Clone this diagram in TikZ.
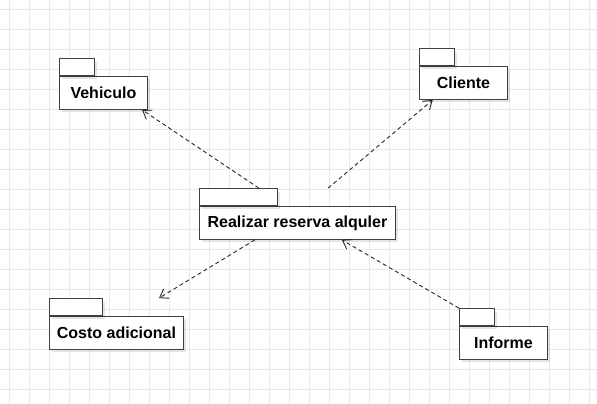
\documentclass[tikz,border=0pt]{standalone}
\usepackage{fontspec}
\setmainfont{Liberation Sans}
\usetikzlibrary{arrows.meta,fit,shadows}
\tikzstyle{gridline}=[draw=black!9, line width=0.8pt]
\tikzstyle{pkgbody}=[draw=black!75, fill=white, line width=0.9pt, minimum height=33pt, inner sep=0pt, anchor=north west, font=\bfseries\fontsize{16}{19}\selectfont, drop shadow={shadow xshift=3pt, shadow yshift=-3pt, fill=black, opacity=0.10}]
\tikzstyle{pkgtab}=[draw=black!75, fill=white, line width=0.9pt, minimum height=17pt, inner sep=0pt, anchor=south west, drop shadow={shadow xshift=3pt, shadow yshift=-3pt, fill=black, opacity=0.10}]
\tikzstyle{pkg}=[inner sep=0pt, outer sep=0pt]
\tikzstyle{dep}=[draw=black!85, line width=0.9pt, dash pattern=on 4pt off 3pt, -{Straight Barb[length=8pt,width=11pt]}]

\begin{document}
\begin{tikzpicture}[x=1pt,y=-1pt]
\useasboundingbox[fill=white] (0,0) rectangle (597,404);
\foreach \x in {9,29,...,589} \draw[gridline] (\x,0) -- (\x,404);
\foreach \y in {9,29,...,389} \draw[gridline] (0,\y) -- (597,\y);
% packages
\node[pkgbody, minimum width=88pt] at (59,76) (VehB) {Vehiculo};
\node[pkgtab, minimum width=35pt] at (VehB.north west) (VehT) {};
\node[pkgbody, minimum width=88pt] at (419,66) (CliB) {Cliente};
\node[pkgtab, minimum width=35pt] at (CliB.north west) (CliT) {};
\node[pkgbody, minimum width=196pt] at (199,206) (ResB) {Realizar reserva alquler};
\node[pkgtab, minimum width=78pt] at (ResB.north west) (ResT) {};
\node[pkgbody, minimum width=134pt] at (49,316) (CosB) {Costo adicional};
\node[pkgtab, minimum width=53pt] at (CosB.north west) (CosT) {};
\node[pkgbody, minimum width=88pt] at (459,326) (InfB) {Informe};
\node[pkgtab, minimum width=35pt] at (InfB.north west) (InfT) {};
% whole package outlines
\node[pkg, fit=(VehB)(VehT)] (Veh) {};
\node[pkg, fit=(CliB)(CliT)] (Cli) {};
\node[pkg, fit=(ResB)(ResT)] (Res) {};
\node[pkg, fit=(CosB)(CosT)] (Cos) {};
\node[pkg, fit=(InfB)(InfT)] (Inf) {};
% dependencies
\draw[dep] (Res) -- (Veh);
\draw[dep] (Res) -- (Cli);
\draw[dep] (Res) -- (Cos);
\draw[dep] (Inf) -- (Res);
\end{tikzpicture}
\end{document}
